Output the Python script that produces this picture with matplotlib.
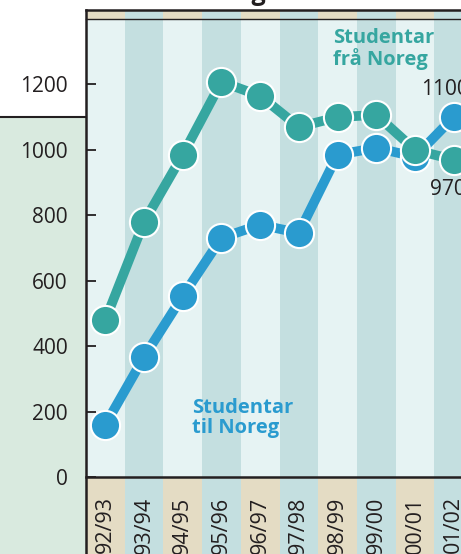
import matplotlib
matplotlib.use("Agg")
import matplotlib.pyplot as plt
from matplotlib.patches import Rectangle
from matplotlib.lines import Line2D

plt.rcParams['font.family'] = ['Open Sans', 'DejaVu Sans']

years = ["92/93", "93/94", "94/95", "95/96", "96/97", "97/98",
         "98/99", "99/00", "00/01", "01/02"]
fra_noreg = [480, 780, 985, 1208, 1165, 1070, 1100, 1107, 1000, 970]
til_noreg = [160, 367, 553, 731, 771, 746, 985, 1006, 979, 1100]
yticks = [0, 200, 400, 600, 800, 1000, 1200]

green = "#36a6a0"
blue = "#2a9bcf"
light_col = "#e6f3f3"
dark_col = "#c4dfe0"
tan = "#e4dcc4"
ink = "#231f20"

W, H = 461, 554
fig = plt.figure(figsize=(W / 100, H / 100), dpi=100)

# left side panel
fig.patches.append(Rectangle((0, 0), 86 / W, (H - 117) / H, transform=fig.transFigure,
                             facecolor="#d9eadf", edgecolor="none", zorder=-2))
fig.lines.append(Line2D([0, 85 / W], [(H - 117) / H] * 2, transform=fig.transFigure,
                        color=ink, lw=1.5, zorder=-1))

ax = fig.add_axes([86 / W, (H - 477) / H, (W - 86) / W, (477 - 19) / H])
ncols = 12
ax.set_xlim(-0.5, -0.5 + (W - 86) / 38.7)
ax.set_ylim(0, 1400)

# column stripes, plus strips above and below the plot
for i in range(ncols):
    ax.axvspan(i - 0.5, i + 0.5, color=light_col if i % 2 == 0 else dark_col, lw=0, zorder=0)
    ax.add_patch(Rectangle((i - 0.5, -0.168), 1, 0.168, transform=ax.get_xaxis_transform(),
                           facecolor=tan if i % 2 == 0 else dark_col, edgecolor="none",
                           clip_on=False, zorder=0))
    ax.add_patch(Rectangle((i - 0.5, 1.0), 1, 0.0197, transform=ax.get_xaxis_transform(),
                           facecolor=tan if i % 2 == 0 else dark_col, edgecolor="none",
                           clip_on=False, zorder=0))

ax.plot([-0.5, 20], [1.0197, 1.0197], transform=ax.get_xaxis_transform(), color=ink,
        lw=1.8, clip_on=False)
ax.plot([-0.5, 20], [1.0, 1.0], transform=ax.get_xaxis_transform(), color=ink,
        lw=1.0, clip_on=False)
ax.plot([-0.5, -0.5], [-0.2, 1.02], transform=ax.get_xaxis_transform(), color=ink,
        lw=1.8, clip_on=False)

x = list(range(len(years)))
ax.plot(x, til_noreg, color=blue, lw=7, marker="o", ms=21, mfc=blue,
        mec="white", mew=1.5, zorder=3)
ax.plot(x, fra_noreg, color=green, lw=7, marker="o", ms=21, mfc=green,
        mec="white", mew=1.5, zorder=4)

ax.text(5.88, 1372, "Studentar\nfrå Noreg", color=green, fontsize=14.5,
        fontweight="bold", ha="left", va="top", linespacing=1.0)
ax.text(2.24, 240, "Studentar\ntil Noreg", color=blue, fontsize=14.5,
        fontweight="bold", ha="left", va="top", linespacing=1.0)
ax.text(8.16, 1183, "1100", color=ink, fontsize=15, ha="left", va="center")
ax.text(8.39, 878, "970", color=ink, fontsize=15, ha="left", va="center")

for s in ["top", "right", "left"]:
    ax.spines[s].set_visible(False)
ax.spines["bottom"].set_color(ink)
ax.spines["bottom"].set_linewidth(1.8)

ax.set_yticks(yticks)
ax.set_xticks(x)
ax.set_xticklabels(years, rotation=90, rotation_mode="anchor", ha="right", va="center")
ax.tick_params(axis="y", direction="in", length=7, width=1.3, color=ink,
               labelsize=15, labelcolor=ink, pad=13)
ax.tick_params(axis="x", length=0, labelsize=15.5, labelcolor=ink, pad=14)

fig.text(266 / W, 1.0, "Studentutveksling", fontsize=18, fontweight="bold",
         color=ink, ha="right", va="baseline")

fig.savefig("out.png", dpi=100)
